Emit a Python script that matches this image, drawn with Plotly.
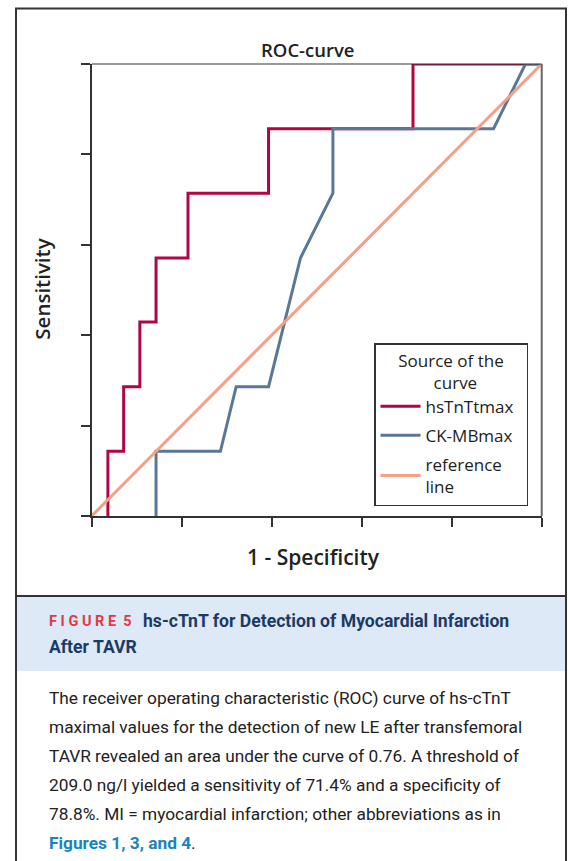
import plotly.graph_objects as go

W, H = 568, 861

# ---- data ----
hs_fpr = [0.036, 0.036, 0.071, 0.071, 0.107, 0.107, 0.143, 0.143, 0.214, 0.214,
          0.393, 0.393, 0.714, 0.714, 1.0]
hs_tpr = [0.0, 0.143, 0.143, 0.286, 0.286, 0.429, 0.429, 0.571, 0.571, 0.714,
          0.714, 0.857, 0.857, 1.0, 1.0]

ck_fpr = [0.143, 0.143, 0.286, 0.321, 0.393, 0.464, 0.536, 0.536, 0.893, 0.964, 1.0]
ck_tpr = [0.0, 0.143, 0.143, 0.286, 0.286, 0.571, 0.714, 0.857, 0.857, 1.0, 1.0]

ref_x = [0.0, 1.0]
ref_y = [0.0, 1.0]

tick_vals = [0.0, 0.2, 0.4, 0.6, 0.8, 1.0]

series_names = ["hsTnTtmax", "CK-MBmax&nbsp;&nbsp;", "reference<br>line"]
series_colors = ["#B2063C", "#5A7896", "#F5A085"]

caption_lines = [
    "The receiver operating characteristic (ROC) curve of hs-cTnT",
    "maximal values for the detection of new LE after transfemoral",
    "TAVR revealed an area under the curve of 0.76. A threshold of",
    "209.0 ng/l yielded a sensitivity of 71.4% and a specificity of",
    "78.8%. MI = myocardial infarction; other abbreviations as in",
    "<b><span style='color:#1B84BC'>Figures 1, 3, and 4</span></b>.",
]


def px(x):
    return x / W


def py(y):
    return 1 - y / H


fig = go.Figure()
for i, (xs, ys) in enumerate([(hs_fpr, hs_tpr), (ck_fpr, ck_tpr), (ref_x, ref_y)]):
    fig.add_trace(go.Scatter(
        x=xs, y=ys, mode="lines", name=series_names[i],
        line=dict(color=series_colors[i], width=3),
        legendgroup=f"g{i}",
    ))

axis_common = dict(
    range=[0, 1], showline=True, linecolor="#333", linewidth=1.5,
    ticks="outside", ticklen=9, tickwidth=1.5, tickcolor="#333",
    tickvals=tick_vals, showticklabels=False, showgrid=False, zeroline=False,
    fixedrange=True,
)

nb = "&nbsp;" * 8
fig.update_layout(
    width=W, height=H,
    margin=dict(l=0, r=0, t=0, b=0, pad=0),
    paper_bgcolor="white", plot_bgcolor="white",
    font=dict(family="Open Sans", color="#222"),
    xaxis=dict(domain=[px(91.7), px(541.7)], **axis_common),
    yaxis=dict(domain=[py(516), py(64)], **axis_common),
    showlegend=True,
    legend=dict(
        x=px(374), y=py(343), xanchor="left", yanchor="top",
        bgcolor="white", bordercolor="#333", borderwidth=1.5,
        font=dict(family="Open Sans", size=17, color="#222"),
        title=dict(text=f"Source of the<br>{nb}curve", side="top center",
                   font=dict(family="Open Sans", size=17, color="#222")),
        tracegroupgap=4, itemwidth=40,
    ),
)

shapes = [
    # top & right frame of plot
    dict(type="line", xref="paper", yref="paper", x0=px(91.7), x1=px(541.7),
         y0=py(64), y1=py(64), line=dict(color="#333", width=1.2), layer="above"),
    dict(type="line", xref="paper", yref="paper", x0=px(541.7), x1=px(541.7),
         y0=py(64), y1=py(516), line=dict(color="#666", width=2), layer="above"),
    # caption header band
    dict(type="rect", xref="paper", yref="paper", x0=px(16), x1=px(566),
         y0=py(671), y1=py(597), fillcolor="#DDE9F6", line=dict(width=0), layer="below"),
    # separator line
    dict(type="line", xref="paper", yref="paper", x0=px(16), x1=px(566),
         y0=py(596), y1=py(596), line=dict(color="#333", width=2)),
    # outer border
    dict(type="path", xref="paper", yref="paper",
         path=f"M {px(16)},{py(870)} L {px(16)},{py(8.5)} L {px(566)},{py(8.5)} L {px(566)},{py(870)}",
         line=dict(color="#333", width=2)),
]

annotations = [
    dict(text="ROC-curve", x=px(308), y=py(50), xref="paper", yref="paper",
         showarrow=False, xanchor="center", yanchor="middle",
         font=dict(family="Open Sans", size=18.5, color="#222", weight=600)),
    dict(text="Sensitivity", x=px(41.7), y=py(289), xref="paper", yref="paper",
         showarrow=False, textangle=-90, xanchor="center", yanchor="middle",
         font=dict(family="Open Sans", size=20.5, color="#222", weight=600)),
    dict(text="1 - Specificity", x=px(313.7), y=py(557), xref="paper", yref="paper",
         showarrow=False, xanchor="center", yanchor="middle",
         font=dict(family="Open Sans", size=21, color="#222", weight=600)),
    dict(text="<b>F I G U R E  5</b>", x=px(47), y=py(621), xref="paper", yref="paper",
         showarrow=False, xanchor="left", yanchor="middle",
         font=dict(family="Roboto", size=14.5, color="#E23A44")),
    dict(text="<b>hs-cTnT for Detection of Myocardial Infarction</b>", x=px(141),
         y=py(621), xref="paper", yref="paper",
         showarrow=False, xanchor="left", yanchor="middle",
         font=dict(family="Roboto", size=17.6, color="#1C3A66")),
    dict(text="<b>After TAVR</b>", x=px(47), y=py(647), xref="paper", yref="paper",
         showarrow=False, xanchor="left", yanchor="middle",
         font=dict(family="Roboto", size=17.6, color="#1C3A66")),
]
for i, line in enumerate(caption_lines):
    annotations.append(dict(
        text=line, x=px(47), y=py(698 + i * 29), xref="paper", yref="paper",
        showarrow=False, xanchor="left", yanchor="middle",
        font=dict(family="Roboto", size=17.3, color="#222"),
    ))

fig.update_layout(shapes=shapes, annotations=annotations)
fig.write_html("out.html")
